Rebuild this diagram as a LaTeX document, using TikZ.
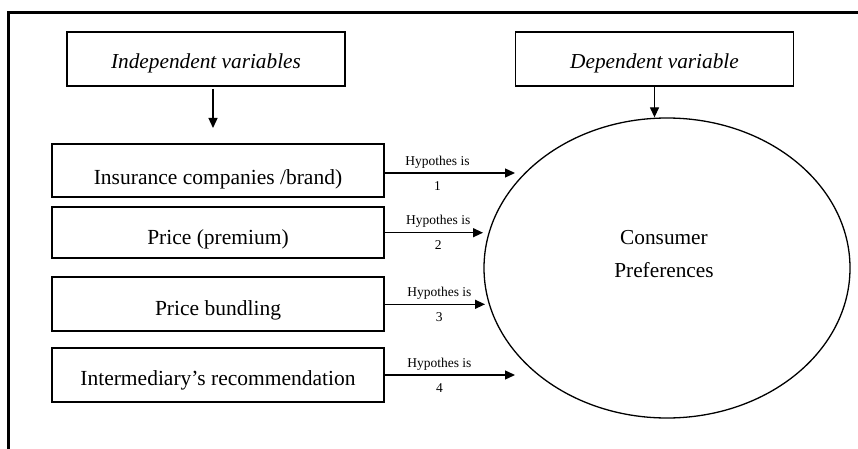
\documentclass[tikz,border=0pt]{standalone}
\usepackage{fontspec}
\setmainfont{Liberation Serif}
\usetikzlibrary{arrows.meta,shapes.geometric}
\newcommand{\lowr}[2]{\raisebox{-#1pt}[0pt][0pt]{#2}}
\begin{document}
\begin{tikzpicture}[x=1pt,y=-1pt,
  hdr/.style={draw,line width=1.3pt,minimum width=278pt,minimum height=54pt,font=\fontsize{21.3}{25}\selectfont\itshape,inner sep=0pt},
  varbox/.style={draw,line width=1.3pt,minimum width=332pt,minimum height=53pt,font=\fontsize{21.5}{25}\selectfont,inner sep=0pt},
  arr/.style={line width=1.3pt,-{Triangle[length=10pt,width=9pt]}},
  lbl/.style={font=\fontsize{13.5}{15}\selectfont,inner sep=0pt,anchor=base}]
\useasboundingbox (0,0) rectangle (858,449);
\fill[white] (0,0) rectangle (858,449);
% frame
\draw[line width=3pt] (8.5,452) -- (8.5,12.5) -- (862,12.5);
% headers
\node[hdr] (ind) at (206,59) {\lowr{9.3}{Independent variables}};
\node[hdr] (dep) at (654.5,59) {\lowr{9.3}{Dependent variable}};
% variable boxes
\node[varbox] (v1) at (218,170.5) {\lowr{13.8}{Insurance companies /brand)}};
\node[varbox,minimum height=51pt] (v2) at (218,232.5) {\lowr{11.8}{Price (premium)}};
\node[varbox,minimum height=54pt] (v3) at (218,304) {\lowr{11}{Price bundling}};
\node[varbox,minimum height=54pt] (v4) at (218,375) {\lowr{10}{Intermediary’s recommendation}};
% ellipse
\node[draw,ellipse,line width=1.3pt,minimum width=366pt,minimum height=300pt,inner sep=0pt] (cp) at (667,268) {};
\node[font=\fontsize{21.3}{33}\selectfont,align=center] (cptext) at (664,254) {Consumer\\Preferences};
% header arrows
\coordinate (inds) at (213,89);
\coordinate (indt) at (213,128);
\draw[arr] (inds) -- (indt);
\draw[arr] (dep.south) -- (dep.south |- cp.north);
% hypothesis arrows
\coordinate (e1) at (515,173);
\coordinate (e2) at (483,232.7);
\coordinate (e3) at (485,304.3);
\coordinate (e4) at (515,375);
\draw[arr] (v1.east |- e1) -- (e1)
  node[lbl,pos=0.405,yshift=8pt] (h1a) {Hypothes is}
  node[lbl,pos=0.405,yshift=-17pt] (h1b) {1};
\draw[arr] (v2.east |- e2) -- (e2)
  node[lbl,pos=0.545,yshift=8pt] (h2a) {Hypothes is}
  node[lbl,pos=0.545,yshift=-17pt] (h2b) {2};
\draw[arr] (v3.east |- e3) -- (e3)
  node[lbl,pos=0.545,yshift=8pt] (h3a) {Hypothes is}
  node[lbl,pos=0.545,yshift=-17pt] (h3b) {3};
\draw[arr] (v4.east |- e4) -- (e4)
  node[lbl,pos=0.42,yshift=8pt] (h4a) {Hypothes is}
  node[lbl,pos=0.42,yshift=-17pt] (h4b) {4};
\end{tikzpicture}
\end{document}
